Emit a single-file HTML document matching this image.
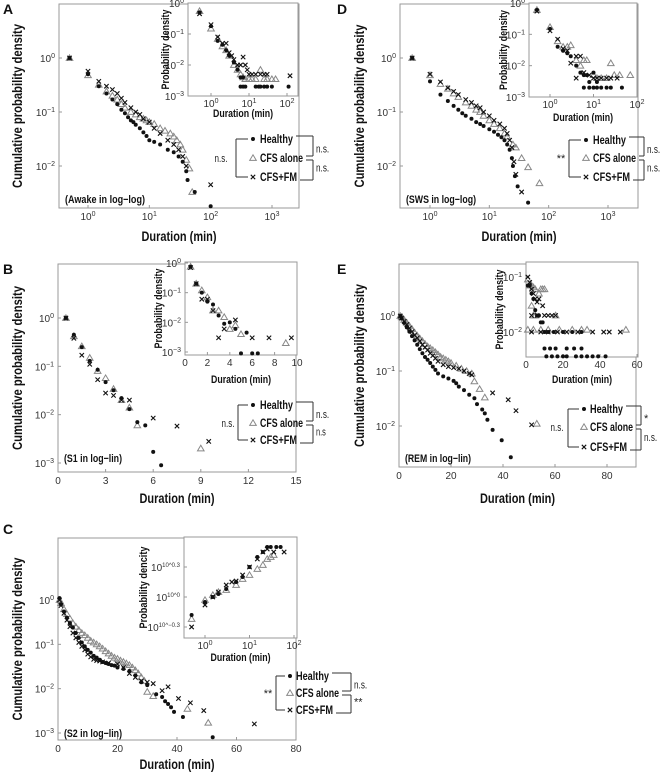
<!DOCTYPE html>
<html><head><meta charset="utf-8">
<style>
html,body{margin:0;padding:0;background:#fff;}
svg{display:block;font-family:"Liberation Sans",sans-serif;}
.tick{font-size:10px;fill:#333;}
.ttl{font-weight:bold;fill:#111;}
.leg{font-size:12px;font-weight:bold;fill:#111;}
.lab{font-size:11px;fill:#222;}
</style></head>
<body>
<svg id="fig" width="663" height="774" viewBox="0 0 663 774" xmlns="http://www.w3.org/2000/svg"></svg>
<script>
// ---------- DATA ----------
const aMainHealthy=[[0.5,1],[1,0.5],[1.5,0.3],[2,0.22],[2.5,0.17],[3,0.14],[3.5,0.11],[4,0.095],[4.5,0.08],[5,0.07],[5.5,0.065],[6,0.058],[7,0.05],[8,0.042],[9,0.036],[10,0.03],[12,0.028],[15,0.025],[20,0.02],[25,0.018],[30,0.015],[35,0.012],[40,0.008],[42,0.0055],[55,0.0033],[100,0.0018]];
const aMainCFS=[[0.5,1],[1,0.48],[1.5,0.32],[2,0.24],[2.5,0.2],[3,0.17],[3.5,0.14],[4,0.12],[5,0.1],[6,0.09],[7,0.08],[8,0.075],[9,0.07],[10,0.065],[12,0.06],[15,0.05],[18,0.045],[22,0.04],[25,0.035],[28,0.03],[32,0.025],[35,0.02],[40,0.013],[45,0.009],[50,0.0033]];
const aMainFM=[[0.5,1],[1,0.57],[1.5,0.37],[2,0.3],[2.5,0.26],[3,0.22],[3.5,0.18],[4,0.15],[5,0.12],[6,0.1],[7,0.09],[8,0.075],[10,0.065],[12,0.05],[15,0.04],[20,0.03],[25,0.025],[30,0.02],[35,0.015],[40,0.01],[100,0.0045]];
const aInHealthy=[[0.5,0.5],[1,0.18],[1.5,0.06],[2,0.045],[2.5,0.03],[3,0.02],[4,0.012],[5,0.007],[6,0.004],[7,0.004],[6,0.002],[7,0.002],[8,0.002],[15,0.002],[18,0.002],[20,0.002],[25,0.002],[30,0.002],[40,0.002],[110,0.002]];
const aInCFS=[[0.5,0.55],[1,0.15],[1.5,0.07],[2,0.04],[2.5,0.03],[3,0.02],[4,0.01],[5,0.007],[6,0.005],[7,0.004],[8,0.0035],[10,0.0035],[12,0.0035],[15,0.0035],[20,0.007],[25,0.0035],[30,0.0035],[40,0.0035],[50,0.0035]];
const aInFM=[[0.5,0.45],[1,0.2],[1.5,0.08],[2,0.05],[2.5,0.05],[3,0.025],[3.5,0.02],[4,0.015],[5,0.01],[6,0.01],[7,0.018],[8,0.01],[9,0.007],[10,0.005],[12,0.005],[15,0.005],[20,0.005],[25,0.005],[30,0.005],[120,0.0045]];

const bMainHealthy=[[0.5,1],[1,0.45],[1.5,0.25],[2,0.13],[2.5,0.085],[3,0.047],[3.5,0.032],[4,0.022],[4.5,0.013],[5,0.007],[5.5,0.006],[6,0.0017],[6.5,0.0009]];
const bMainCFS=[[0.5,1],[1,0.42],[1.5,0.26],[2,0.15],[2.5,0.08],[3,0.057],[3.5,0.034],[4,0.02],[4.5,0.014],[5,0.006],[9,0.002]];
const bMainFM=[[0.5,1],[1,0.38],[1.5,0.17],[2,0.11],[2.5,0.053],[3,0.028],[3.5,0.025],[4,0.02],[4.5,0.02],[6,0.0085],[7.5,0.0058],[9.5,0.0028]];
const bInHealthy=[[0.5,0.75],[1,0.2],[1.5,0.1],[2,0.05],[2.5,0.04],[3,0.017],[3.5,0.009],[4,0.01],[4.5,0.006],[5.5,0.0045],[5,0.0009],[6,0.0009],[6.5,0.0009]];
const bInCFS=[[0.5,0.75],[1,0.2],[1.5,0.12],[2,0.07],[2.5,0.025],[3,0.025],[3.5,0.015],[4,0.006],[4.5,0.008],[5,0.004],[9,0.002]];
const bInFM=[[0.5,0.7],[1,0.2],[1.5,0.06],[2,0.06],[2.5,0.025],[3,0.003],[3.5,0.006],[4.5,0.012],[6,0.003],[7.5,0.003],[9.5,0.003]];

const cMainHealthy=[[0.5,1.1],[1,0.8],[2,0.55],[3,0.4],[4,0.3],[5,0.24],[6,0.18],[7,0.14],[8,0.11],[9,0.09],[10,0.075],[11,0.065],[12,0.055],[13,0.05],[14,0.045],[15,0.04],[16,0.038],[17,0.036],[18,0.034],[19,0.033],[20,0.03],[22,0.028],[24,0.025],[26,0.02],[28,0.014],[30,0.012],[33,0.0075],[35,0.0065],[36,0.0052],[37,0.0045],[38,0.0038],[39,0.003],[42,0.0023],[52,0.0008]];
const cMainCFS=[[0.5,1],[1,0.85],[2,0.62],[3,0.48],[4,0.38],[5,0.3],[6,0.25],[7,0.21],[8,0.18],[9,0.16],[10,0.14],[11,0.12],[12,0.11],[13,0.1],[14,0.09],[15,0.08],[16,0.07],[17,0.062],[18,0.055],[19,0.05],[20,0.047],[21,0.043],[22,0.04],[23,0.037],[24,0.034],[25,0.03],[26,0.026],[27,0.022],[28,0.018],[29,0.015],[30,0.0085],[32,0.0068],[43.5,0.0035],[50.5,0.0017]];
const cMainFM=[[0.5,1],[1,0.75],[2,0.5],[3,0.35],[4,0.25],[5,0.18],[6,0.14],[7,0.11],[8,0.09],[9,0.075],[10,0.06],[11,0.052],[12,0.046],[13,0.043],[14,0.042],[15,0.04],[17,0.038],[20,0.036],[22,0.03],[24,0.022],[26,0.018],[28,0.015],[30,0.014],[32,0.013],[35,0.009],[37,0.011],[40.5,0.006],[44.5,0.0048],[49,0.0032],[66,0.0016]];
const cInHealthy=[[0.5,-0.18],[1,-0.05],[1.5,0],[2,0.03],[3,0.08],[5,0.15],[7,0.2],[10,0.3],[15,0.4],[20,0.45],[25,0.5],[30,0.5],[40,0.5],[50,0.5]];
const cInCFS=[[0.5,-0.22],[1,-0.03],[1.5,0.02],[2,0.05],[3,0.07],[5,0.12],[7,0.18],[10,0.22],[15,0.28],[20,0.32],[25,0.38],[30,0.4],[35,0.42]];
const cInFM=[[0.5,-0.3],[1,-0.08],[1.5,0],[2,0.05],[3,0.12],[4,0.15],[5,0.16],[7,0.22],[10,0.3],[15,0.38],[20,0.45],[25,0.48],[35,0.45],[60,0.45]];

const dMainHealthy=[[0.5,1],[1,0.37],[1.5,0.21],[2,0.16],[2.5,0.13],[3,0.11],[3.5,0.095],[4,0.085],[5,0.075],[6,0.065],[7,0.06],[8,0.055],[10,0.048],[12,0.043],[14,0.038],[16,0.034],[18,0.03],[20,0.025],[22,0.02],[24,0.014],[25,0.01],[27,0.0065],[30,0.0042],[45,0.0021]];
const dMainCFS=[[0.5,1],[1,0.48],[1.5,0.33],[2,0.27],[2.5,0.22],[3,0.19],[4,0.15],[5,0.13],[6,0.11],[7,0.1],[8,0.085],[10,0.07],[12,0.06],[15,0.05],[18,0.04],[20,0.035],[25,0.025],[28,0.022],[35,0.014],[45,0.0095],[70,0.0048]];
const dMainFM=[[0.5,1],[1,0.5],[1.5,0.36],[2,0.28],[2.5,0.24],[3,0.21],[4,0.17],[5,0.15],[6,0.13],[7,0.12],[8,0.1],[10,0.085],[12,0.07],[15,0.06],[18,0.05],[20,0.04],[22,0.03],[24,0.022],[26,0.012],[28,0.007],[35,0.0033]];
const dInHealthy=[[0.5,0.6],[1,0.15],[1.5,0.04],[2,0.03],[2.5,0.025],[3,0.02],[4,0.01],[5,0.006],[6,0.005],[7,0.005],[8,0.003],[10,0.006],[12,0.003],[6,0.002],[8,0.002],[10,0.002],[12,0.002],[15,0.002],[20,0.002],[25,0.002],[45,0.002]];
const dInCFS=[[0.5,0.6],[1,0.17],[1.5,0.06],[2,0.04],[2.5,0.04],[3,0.045],[4,0.015],[5,0.01],[6,0.015],[7,0.015],[10,0.005],[12,0.004],[15,0.004],[20,0.004],[25,0.012],[30,0.005],[40,0.005],[70,0.005]];
const dInFM=[[0.5,0.55],[1,0.13],[1.5,0.07],[2,0.035],[2.5,0.03],[3,0.012],[4,0.02],[5,0.02],[4,0.004],[6,0.006],[8,0.005],[10,0.004],[12,0.004],[15,0.004],[20,0.004],[25,0.004],[35,0.004]];

const eMainHealthy=[[0.5,1],[1,0.9],[2,0.75],[3,0.62],[4,0.52],[5,0.43],[6,0.36],[7,0.3],[8,0.25],[9,0.21],[10,0.18],[11,0.16],[12,0.14],[13,0.12],[14,0.105],[15,0.09],[17,0.08],[19,0.073],[21,0.066],[22,0.06],[23,0.052],[25,0.045],[27,0.037],[29,0.032],[30,0.025],[32,0.02],[33,0.017],[34,0.013],[36,0.0085],[39.5,0.0055],[43,0.0027]];
const eMainCFS=[[0.5,1],[1,0.95],[2,0.85],[3,0.75],[4,0.66],[5,0.58],[6,0.5],[7,0.44],[8,0.39],[9,0.35],[10,0.31],[11,0.28],[12,0.26],[13,0.24],[14,0.22],[15,0.2],[16,0.18],[17,0.17],[18,0.16],[19,0.15],[20,0.14],[22,0.125],[24,0.11],[26,0.1],[28,0.09],[29,0.065],[31,0.047],[33,0.033],[53,0.011]];
const eMainFM=[[0.5,1],[1,0.92],[2,0.8],[3,0.7],[4,0.6],[5,0.52],[6,0.45],[7,0.4],[8,0.35],[9,0.3],[10,0.27],[11,0.24],[12,0.21],[13,0.19],[14,0.17],[15,0.15],[17,0.13],[19,0.12],[21,0.115],[23,0.11],[25,0.1],[27,0.09],[28,0.085],[36,0.04],[42,0.03],[45,0.019],[51,0.0105]];
const eInHealthy=[[1,0.07],[2,0.07],[3,0.05],[4,0.04],[5,0.025],[6,0.02],[7,0.02],[8,0.015],[9,0.015],[10,0.01],[12,0.01],[15,0.01],[20,0.01],[25,0.01],[30,0.01],[10,0.005],[13,0.005],[16,0.005],[22,0.005],[26,0.005],[30,0.005],[11,0.0036],[14,0.0036],[17,0.0036],[20,0.0036],[22,0.0036],[27,0.0036],[30,0.0036],[33,0.0036],[36,0.0036],[39,0.0036],[43,0.0036]];
const eInCFS=[[1,0.09],[2,0.07],[3,0.07],[4,0.065],[5,0.06],[7,0.05],[8,0.06],[9,0.06],[10,0.06],[3,0.03],[4,0.02],[5,0.02],[16,0.02],[1,0.011],[4,0.011],[8,0.011],[12,0.011],[18,0.011],[25,0.011],[30,0.011],[33,0.011],[54,0.011]];
const eInFM=[[1,0.1],[2,0.08],[3,0.06],[4,0.05],[5,0.04],[6,0.035],[7,0.04],[9,0.03],[3,0.02],[6,0.02],[10,0.02],[12,0.02],[14,0.02],[16,0.02],[3,0.01],[8,0.01],[12,0.01],[17,0.01],[22,0.01],[28,0.01],[36,0.01],[42,0.01],[45,0.01],[51,0.01]];

// tick values
const logMainXTicks=[0,1,2,3];
const logYTicks3=[0,-1,-2,-3];
const logYTicks2=[0,-1,-2];
const logInsetXTicks=[0,1,2];
const bMainXTicks=[0,3,6,9,12,15];
const bInXTicks=[0,2,4,6,8,10];
const ceMainXTicks=[0,20,40,60,80];
const cInYTicks=[-0.3,0,0.3];
const eInYTicks=[-1,-2];
const eInXTicks=[0,20,40,60];

// ---------- DRAWING ----------
const NS='http://www.w3.org/2000/svg';
const svg=document.getElementById('fig');
function el(tag,attrs,parent){const e=document.createElementNS(NS,tag);for(const k in attrs)e.setAttribute(k,attrs[k]);(parent||svg).appendChild(e);return e;}
function fit(t,len){t.setAttribute('textLength',len);t.setAttribute('lengthAdjust','spacingAndGlyphs');}
function scale(log,v1,p1,v2,p2){const f=log?(v=>Math.log10(v)):(v=>v);return v=>p1+(f(v)-f(v1))/(f(v2)-f(v1))*(p2-p1);}
function powLabel(t,base,exp,small){
  t.appendChild(document.createTextNode(base));
  const s=el('tspan',{dy:-4,'font-size':small||7},t);s.textContent=exp;
}
function marker(g,kind,x,y){
  let m;
  if(kind==='h'){m=el('circle',{cx:x,cy:y,r:2,fill:'#111'},g);}
  else if(kind==='c'){m=el('path',{d:`M${x-3.3},${y+2.4}L${x},${y-3.2}L${x+3.3},${y+2.4}Z`,fill:'none',stroke:'#888','stroke-width':1},g);}
  else {m=el('path',{d:`M${x-2.2},${y-2.2}L${x+2.2},${y+2.2}M${x-2.2},${y+2.2}L${x+2.2},${y-2.2}`,stroke:'#111','stroke-width':1.1},g);}
  return m;
}
function plot(p){
  const g=el('g',{});
  
  
  const b=p.box;
  const bg=el('rect',{x:b.l,y:b.t,width:b.r-b.l,height:b.b-b.t,fill:'#fff',stroke:'#999','stroke-width':1},g);
  
  
  const xs=p.xs, ys=p.ys;
  p.xt.forEach(v=>{
    const px=p.xlog?xs(Math.pow(10,v)):xs(v);
    el('line',{x1:px,y1:b.b,x2:px,y2:b.b-3,stroke:'#999'},g);
    const t=el('text',{x:px,y:b.b+p.xlo,'text-anchor':'middle',class:'tick','font-size':p.fs},g);
    
    
    if(p.xlog)powLabel(t,'10',String(v).replace('-','−'));else t.textContent=v;
  });
  p.yt.forEach(v=>{
    const py=p.ylin?ys(v):ys(Math.pow(10,v));
    el('line',{x1:b.l,y1:py,x2:b.l+3,y2:py,stroke:'#999'},g);
    const t=el('text',{x:b.l-4,y:py+4,'text-anchor':'end',class:'tick','font-size':p.fs},g);
    
    
    if(p.ylin){powLabel(t,'10','10^'+(v===0?'0':String(v).replace('-','−')),6);t.setAttribute('font-size',8);}
    else powLabel(t,'10',String(v).replace('-','−'));
  });
  const kinds=[['c',p.cfs,'cfs-alone'],['h',p.h,'healthy'],['f',p.fm,'cfs-fm']];
  kinds.forEach(([k,arr,nm])=>{
    const sg=el('g',{},g);
    
    
    arr.forEach(d=>{
      const m=marker(sg,k,xs(d[0]),ys(d[1]));
      
      
    });
  });
  const xt=el('text',{x:(b.l+b.r)/2,y:p.xty,'text-anchor':'middle',class:'ttl','font-size':p.tfs},g);
  
  
  xt.textContent='Duration (min)';
  fit(xt,p.xtl);
  const cy=(b.t+b.b)/2;
  const yt=el('text',{x:p.ytx,y:cy,'text-anchor':'middle',class:'ttl','font-size':p.tfs,transform:`rotate(-90 ${p.ytx} ${cy})`},g);
  
  
  yt.textContent=p.ytitle;
  fit(yt,p.ytl);
  if(p.note){
    const n=el('text',{x:b.l+6,y:p.noteY,class:'ttl','font-size':11},g);
    
    
    n.textContent=p.note;
    fit(n,p.noteW);
  }
}
function letter(x,y,s){
  const t=el('text',{x:x,y:y,class:'ttl','font-size':14});
  
  
  t.textContent=s;
}
const legW=[33,43,37];
function legend(L){
  const g=el('g',{});
  
  
  const names=['Healthy','CFS alone','CFS+FM'], ks=['h','c','f'];
  const ends=[];
  names.forEach((n,i)=>{
    const m=marker(g,ks[i],L.mx,L.ys[i]);
    
    
    const t=el('text',{x:L.tx,y:L.ys[i]+4,class:'leg'},g);
    
    
    t.textContent=n;
    fit(t,legW[i]);
    ends.push(L.tx+legW[i]+3);
  });
  const ln=(x1,y1,x2,y2)=>el('line',{x1,y1,x2,y2,stroke:'#333','stroke-width':1},g);
  ln(L.lbx,L.ys[0],L.lbx,L.ys[2]);
  ln(L.lbx,L.ys[0],L.mx-5,L.ys[0]);
  ln(L.lbx,L.ys[2],L.mx-5,L.ys[2]);
  const ll=el('text',{x:L.llx,y:L.ys[1]+4,'text-anchor':'middle',class:'lab'},g);
  
  
  ll.textContent=L.ll;
  if(L.ll==='n.s.')fit(ll,13);
  const r=L.rbx;
  ln(ends[0],L.ys[0]-3,r,L.ys[0]-3);ln(r,L.ys[0]-3,r,L.ys[1]-2);ln(ends[1],L.ys[1]-2,r,L.ys[1]-2);
  ln(ends[1],L.ys[1]+2,r,L.ys[1]+2);ln(r,L.ys[1]+2,r,L.ys[2]+3);ln(ends[2],L.ys[2]+3,r,L.ys[2]+3);
  L.rl.forEach((s,i)=>{
    const t=el('text',{x:r+3,y:(i===0?(L.ys[0]+L.ys[1])/2:(L.ys[1]+L.ys[2])/2)+4,class:'lab'},g);
    
    
    t.textContent=s;
    if(s.startsWith('n.s'))fit(t,s.length*3.3);
  });
}

const CPD='Cumulative probability density', PD='Probability density';

// Panel A
plot({name:'panel-a-main',box:{l:59,t:4,r:299,b:208},xlog:true,xs:scale(true,1,88,1000,272),ys:scale(true,1,58,0.01,166),
  xt:logMainXTicks,yt:logYTicks2,h:aMainHealthy,cfs:aMainCFS,fm:aMainFM,xlo:12,fs:10,tfs:13.5,xty:241,xtl:75,ytx:22,ytl:164,ytitle:CPD,note:'(Awake in log−log)',noteY:203,noteW:80});
plot({name:'panel-a-inset',box:{l:188,t:3,r:298,b:96},xlog:true,xs:scale(true,1,211,100,287),ys:scale(true,1,3,0.001,96),
  xt:logInsetXTicks,yt:logYTicks3,h:aInHealthy,cfs:aInCFS,fm:aInFM,xlo:11,fs:9,tfs:11,xty:117,xtl:60,ytx:169,ytl:80,ytitle:PD});
legend({mx:253,tx:260,ys:[139,158,177],lbx:236,llx:221,ll:'n.s.',rbx:313,rl:['n.s.','n.s.']});
letter(3,14,'A');

// Panel B
plot({name:'panel-b-main',box:{l:58,t:264,r:296,b:472},xlog:false,xs:scale(false,0,58,15,296),ys:scale(true,1,318,0.001,463),
  xt:bMainXTicks,yt:logYTicks3,h:bMainHealthy,cfs:bMainCFS,fm:bMainFM,xlo:12,fs:10,tfs:13.5,xty:503,xtl:75,ytx:22,ytl:164,ytitle:CPD,note:'(S1 in log−lin)',noteY:462,noteW:58});
plot({name:'panel-b-inset',box:{l:185,t:262,r:297,b:355},xlog:false,xs:scale(false,0,185,10,297),ys:scale(true,1,263,0.001,352),
  xt:bInXTicks,yt:logYTicks3,h:bInHealthy,cfs:bInCFS,fm:bInFM,xlo:11,fs:9,tfs:11,xty:383,xtl:60,ytx:162,ytl:80,ytitle:PD});
legend({mx:253,tx:260,ys:[405,423,440],lbx:238,llx:228,ll:'n.s.',rbx:313,rl:['n.s.','n.s']});
letter(3,274,'B');

// Panel C
plot({name:'panel-c-main',box:{l:58,t:538,r:296,b:740},xlog:false,xs:scale(false,0,58,80,296),ys:scale(true,1,600,0.001,733),
  xt:ceMainXTicks,yt:logYTicks3,h:cMainHealthy,cfs:cMainCFS,fm:cMainFM,xlo:12,fs:10,tfs:13.5,xty:769,xtl:75,ytx:22,ytl:163,ytitle:CPD,note:'(S2 in log−lin)',noteY:737,noteW:58});
plot({name:'panel-c-inset',box:{l:184,t:537,r:297,b:638},xlog:true,ylin:true,xs:scale(true,1,205,100,294),ys:scale(false,0,597,0.3,567),
  xt:logInsetXTicks,yt:cInYTicks,h:cInHealthy,cfs:cInCFS,fm:cInFM,xlo:11,fs:9,tfs:11,xty:661,xtl:60,ytx:147,ytl:82,ytitle:'Probability dencity'});
legend({mx:290,tx:296,ys:[676,693,710],lbx:276,llx:268,ll:'**',rbx:351,rl:['n.s.','**']});
letter(3,534,'C');

// Panel D
plot({name:'panel-d-main',box:{l:400,t:4,r:638,b:208},xlog:true,xs:scale(true,1,430,1000,608),ys:scale(true,1,58,0.01,166),
  xt:logMainXTicks,yt:logYTicks2,h:dMainHealthy,cfs:dMainCFS,fm:dMainFM,xlo:12,fs:10,tfs:13.5,xty:241,xtl:75,ytx:364,ytl:163,ytitle:CPD,note:'(SWS in log−log)',noteY:203,noteW:70});
plot({name:'panel-d-inset',box:{l:529,t:3,r:637,b:97},xlog:true,xs:scale(true,1,550,100,637),ys:scale(true,1,3,0.001,97),
  xt:logInsetXTicks,yt:logYTicks3,h:dInHealthy,cfs:dInCFS,fm:dInFM,xlo:11,fs:9,tfs:11,xty:121,xtl:60,ytx:507,ytl:80,ytitle:PD});
legend({mx:586,tx:593,ys:[140,158,177],lbx:569,llx:561,ll:'**',rbx:644,rl:['n.s.','n.s.']});
letter(337,14,'D');

// Panel E
plot({name:'panel-e-main',box:{l:399,t:264,r:636,b:467},xlog:false,xs:scale(false,0,399,80,607),ys:scale(true,1,316,0.01,426),
  xt:ceMainXTicks,yt:logYTicks2,h:eMainHealthy,cfs:eMainCFS,fm:eMainFM,xlo:12,fs:10,tfs:13.5,xty:503,xtl:75,ytx:364,ytl:163,ytitle:CPD,note:'(REM in log−lin)',noteY:462,noteW:66});
plot({name:'panel-e-inset',box:{l:526,t:262,r:638,b:357},xlog:false,xs:scale(false,0,526,60,637),ys:scale(true,0.1,277,0.01,332),
  xt:eInXTicks,yt:eInYTicks,h:eInHealthy,cfs:eInCFS,fm:eInFM,xlo:11,fs:9,tfs:11,xty:383,xtl:60,ytx:503,ytl:80,ytitle:PD});
legend({mx:584,tx:590,ys:[409,427,447],lbx:568,llx:557,ll:'n.s.',rbx:641,rl:['*','n.s.']});
letter(337,274,'E');
</script>
</body></html>
